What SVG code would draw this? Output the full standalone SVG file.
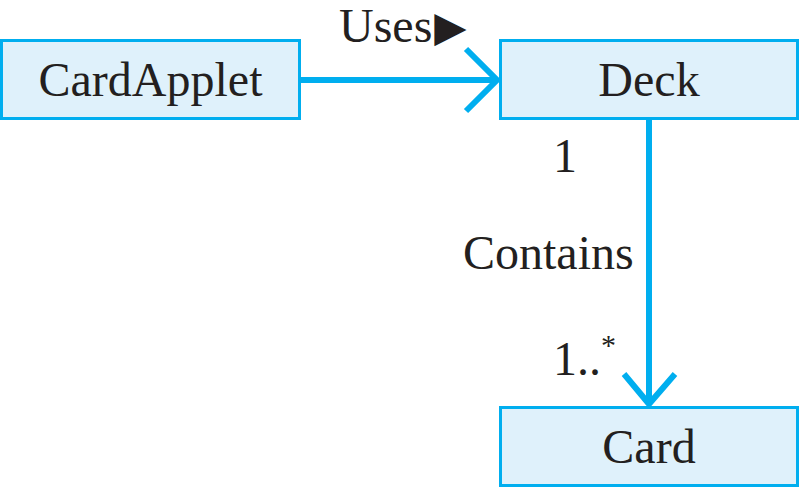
<svg xmlns="http://www.w3.org/2000/svg" width="800" height="488" viewBox="0 0 800 488">
<style>
.box{fill:#dff1fb;stroke:#00aeef;stroke-width:3}
.lbl{font-family:"Liberation Serif","Times New Roman",serif;font-size:48px;fill:#231f20}
.c{text-anchor:middle}
.ln{fill:none;stroke:#00aeef;stroke-width:6}
</style>
<rect width="800" height="488" fill="#ffffff"/>
<g id="CardApplet">
<rect class="box" x="1.5" y="40.5" width="298" height="78"/>
<text class="lbl c" x="150.5" y="96">CardApplet</text>
</g>
<g id="Deck">
<rect class="box" x="500.5" y="40.5" width="297" height="78"/>
<text class="lbl c" x="649" y="96">Deck</text>
</g>
<g id="Card">
<rect class="box" x="500.5" y="407.5" width="297" height="78"/>
<text class="lbl c" x="649" y="463">Card</text>
</g>
<g id="connectors">
<line class="ln" x1="301" y1="80" x2="497" y2="80"/>
<polyline class="ln" points="466,49 497,80 466,111"/>
<text class="lbl" x="339" y="42">Uses<tspan font-family="DejaVu Sans" font-size="42" dx="2" dy="-1">▶</tspan></text>
<line class="ln" x1="649" y1="120" x2="649" y2="404"/>
<polyline class="ln" points="624,374 649,404 675,374"/>
<text class="lbl" x="553" y="172">1</text>
<text class="lbl" x="463" y="269">Contains</text>
<text class="lbl" x="553" y="375">1..<tspan font-size="30" dy="-20">*</tspan></text>
</g>
</svg>
